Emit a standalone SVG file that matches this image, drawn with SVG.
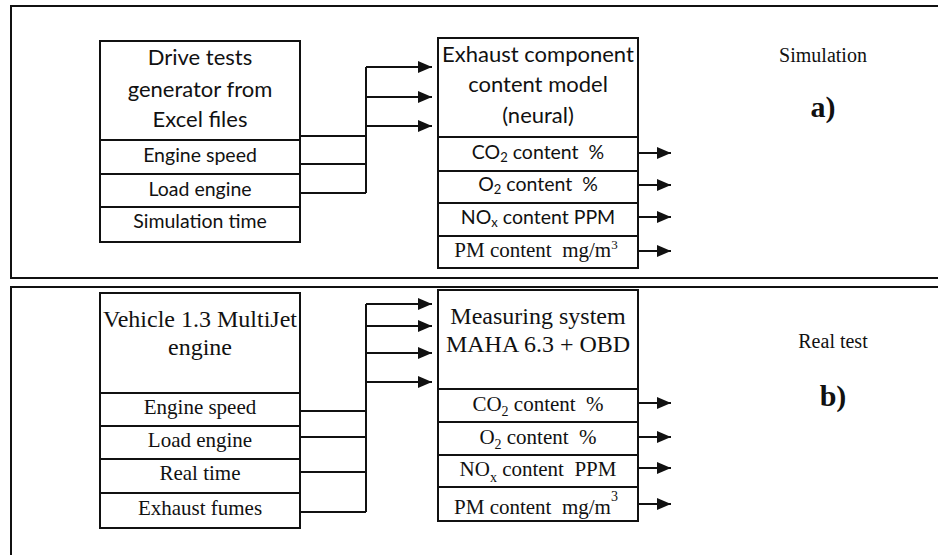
<svg xmlns="http://www.w3.org/2000/svg" width="938" height="555" viewBox="0 0 938 555">
  <style>
    .frame { fill: none; stroke: #111; stroke-width: 2; }
    .box { fill: #fff; stroke: #111; stroke-width: 2; }
    .wire { fill: none; stroke: #111; stroke-width: 2; }
    .sans { font-family: Lato, "Open Sans", "Liberation Sans", sans-serif; fill: #111; text-anchor: middle; white-space: pre; }
    .serif { font-family: "Liberation Serif", "Times New Roman", serif; fill: #111; text-anchor: middle; white-space: pre; }
    .hs { font-size: 22px; }
    .rs { font-size: 19.5px; }
    .hr { font-size: 24px; }
    .rr { font-size: 21px; }
    .tag { font-family: "Liberation Serif", "Times New Roman", serif; font-weight: bold; font-size: 30px; fill: #111; text-anchor: middle; }
    .cap { font-family: "Liberation Serif", "Times New Roman", serif; font-size: 20px; fill: #111; text-anchor: middle; }
  </style>
  <defs>
    <marker id="arrow" markerUnits="userSpaceOnUse" markerWidth="16" markerHeight="14" refX="14" refY="6" orient="auto">
      <path d="M0,0 L14,6 L0,12 Z" fill="#111"/>
    </marker>
  </defs>
  <rect width="938" height="555" fill="#fff"/>

  <!-- panel frames, open to the right -->
  <path class="frame" d="M945,6 H11 V278 H945"/>
  <path class="frame" d="M945,287 H11 V560"/>

  <!-- a) simulation -->
  <g id="drive-tests-generator">
    <rect class="box" x="100" y="41" width="200" height="201"/>
    <path class="wire" d="M100,140 H300 M100,174 H300 M100,207 H300"/>
    <text class="sans hs" x="200" y="65">Drive tests</text>
    <text class="sans hs" x="200" y="97">generator from</text>
    <text class="sans hs" x="200" y="127">Excel files</text>
    <text class="sans rs" x="200" y="162">Engine speed</text>
    <text class="sans rs" x="200" y="196">Load engine</text>
    <text class="sans rs" x="200" y="228">Simulation time</text>
  </g>

  <g id="exhaust-model">
    <rect class="box" x="438" y="38" width="200" height="230"/>
    <path class="wire" d="M438,137 H638 M438,171 H638 M438,203 H638 M438,236 H638"/>
    <text class="sans hs" x="538" y="62">Exhaust component</text>
    <text class="sans hs" x="538" y="92">content model</text>
    <text class="sans hs" x="538" y="123">(neural)</text>
    <text class="sans rs" x="538" y="159">CO<tspan font-size="13" dy="3">2</tspan><tspan dy="-3"> content  %</tspan></text>
    <text class="sans rs" x="538" y="191">O<tspan font-size="13" dy="3">2</tspan><tspan dy="-3"> content  %</tspan></text>
    <text class="sans rs" x="538" y="224">NO<tspan font-size="13" dy="3">x</tspan><tspan dy="-3"> content PPM</tspan></text>
    <text class="serif rr" x="536" y="257">PM content  mg/m<tspan font-size="13" dy="-8">3</tspan></text>
  </g>

  <g id="simulation-label">
    <text class="cap" x="823" y="62">Simulation</text>
    <text class="tag" x="823" y="117">a)</text>
  </g>

  <!-- b) real test -->
  <g id="vehicle">
    <rect class="box" x="100" y="293" width="200" height="235"/>
    <path class="wire" d="M100,393 H300 M100,426 H300 M100,459 H300 M100,493 H300"/>
    <text class="serif hr" x="200" y="327">Vehicle 1.3 MultiJet</text>
    <text class="serif hr" x="200" y="355">engine</text>
    <text class="serif rr" x="200" y="414">Engine speed</text>
    <text class="serif rr" x="200" y="447">Load engine</text>
    <text class="serif rr" x="200" y="480">Real time</text>
    <text class="serif rr" x="200" y="515">Exhaust fumes</text>
  </g>

  <g id="measuring-system">
    <rect class="box" x="438" y="290" width="200" height="231"/>
    <path class="wire" d="M438,389 H638 M438,422 H638 M438,455 H638 M438,487 H638"/>
    <text class="serif hr" x="538" y="324">Measuring system</text>
    <text class="serif hr" x="538" y="352">MAHA 6.3 + OBD</text>
    <text class="serif rr" x="538" y="411">CO<tspan font-size="14" dy="5">2</tspan><tspan dy="-5"> content  %</tspan></text>
    <text class="serif rr" x="538" y="444">O<tspan font-size="14" dy="5">2</tspan><tspan dy="-5"> content  %</tspan></text>
    <text class="serif rr" x="538" y="476">NO<tspan font-size="14" dy="6">x</tspan><tspan dy="-6"> content  PPM</tspan></text>
    <text class="serif rr" x="536" y="514">PM content  mg/m<tspan font-size="14" dy="-13">3</tspan></text>
  </g>

  <g id="real-test-label">
    <text class="cap" x="833" y="348">Real test</text>
    <text class="tag" x="833" y="406">b)</text>
  </g>

  <!-- connectors -->
  <g id="connectors">
    <path class="wire" d="M300,136 H366 M300,164 H366 M300,193 H366 M366,193 V67"/>
    <path class="wire" marker-end="url(#arrow)" d="M366,67 H432"/>
    <path class="wire" marker-end="url(#arrow)" d="M366,97 H432"/>
    <path class="wire" marker-end="url(#arrow)" d="M366,126 H432"/>
    <path class="wire" marker-end="url(#arrow)" d="M638,153 H671"/>
    <path class="wire" marker-end="url(#arrow)" d="M638,185 H671"/>
    <path class="wire" marker-end="url(#arrow)" d="M638,217 H671"/>
    <path class="wire" marker-end="url(#arrow)" d="M638,251 H671"/>

    <path class="wire" d="M300,411 H366 M300,437 H366 M300,472 H366 M300,512 H366 M366,512 V304"/>
    <path class="wire" marker-end="url(#arrow)" d="M366,304 H432"/>
    <path class="wire" marker-end="url(#arrow)" d="M366,326 H432"/>
    <path class="wire" marker-end="url(#arrow)" d="M366,353 H432"/>
    <path class="wire" marker-end="url(#arrow)" d="M366,382 H432"/>
    <path class="wire" marker-end="url(#arrow)" d="M638,403 H671"/>
    <path class="wire" marker-end="url(#arrow)" d="M638,437 H671"/>
    <path class="wire" marker-end="url(#arrow)" d="M638,468 H671"/>
    <path class="wire" marker-end="url(#arrow)" d="M638,504 H671"/>
  </g>
</svg>
